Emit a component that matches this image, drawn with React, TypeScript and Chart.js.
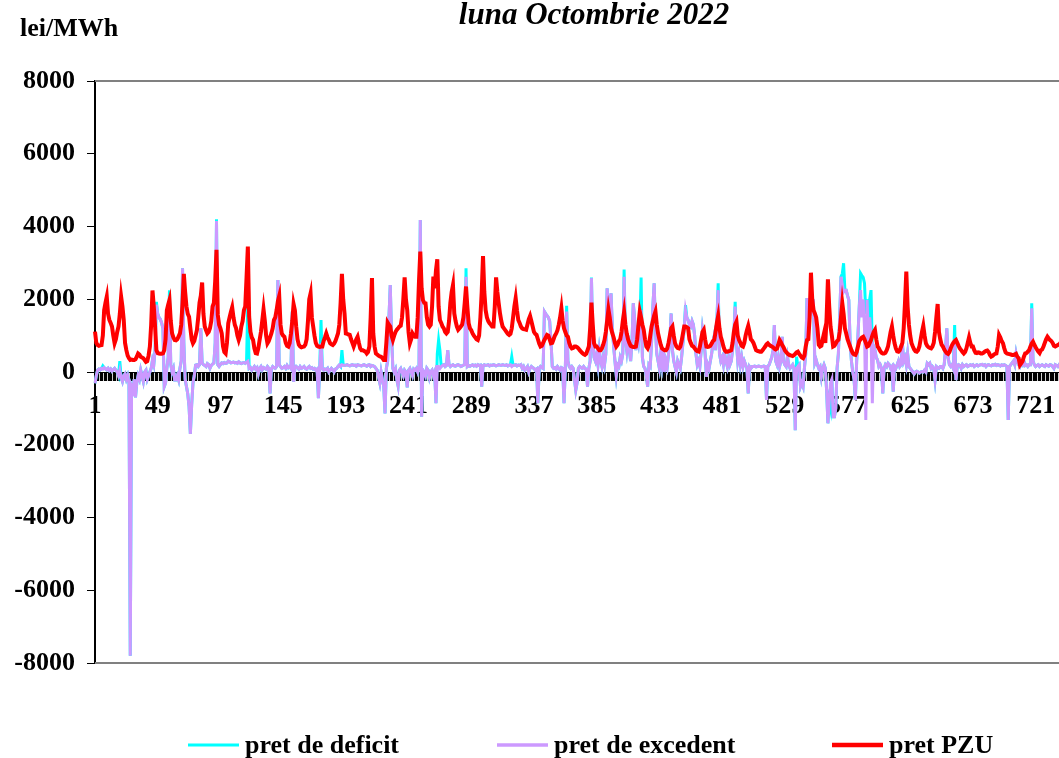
import React, { useEffect, useRef } from "react";
import { Chart, registerables } from "chart.js";

Chart.register(...registerables);

const FONT = "'Liberation Serif', 'Times New Roman', serif";

const chartTitle = "luna Octombrie 2022";
const unitLabel = "lei/MWh";
const seriesNames = ["pret de deficit", "pret de excedent", "pret PZU"];
const seriesColors = ["#00FFFF", "#CC99FF", "#FF0000"];

// hourly PZU price, one row per day (30 Oct has 25 hours)
const pretPZU = [
  1110, 800, 740, 720, 730, 740, 1000, 1700, 1900, 2070, 1600, 1430, 1350, 1250, 1000, 790, 900, 1100, 1250, 1600, 2070, 1800, 1430, 800,
  600, 450, 380, 330, 340, 330, 330, 350, 420, 510, 480, 420, 400, 380, 330, 280, 300, 450, 700, 1300, 2240, 1800, 1250, 600,
  520, 510, 500, 500, 510, 600, 900, 1700, 1850, 1980, 1400, 1060, 950, 880, 870, 900, 980, 1060, 1300, 1900, 2700, 2200, 1800, 1600,
  1520, 1200, 900, 790, 850, 1000, 1150, 1500, 1900, 2100, 2460, 1600, 1250, 1150, 1060, 1100, 1200, 1400, 1800, 1900, 2500, 3360, 1570, 1300,
  1200, 1060, 700, 550, 510, 800, 1340, 1500, 1650, 1780, 1500, 1300, 1200, 1000, 880, 1000, 1250, 1400, 1700, 1800, 2600, 3450, 1520, 1100,
  950, 880, 650, 520, 510, 650, 880, 1100, 1400, 1720, 1400, 1000, 790, 850, 950, 1060, 1200, 1430, 1500, 1700, 1950, 2090, 1300, 1060,
  1000, 970, 800, 720, 700, 800, 1060, 1400, 1870, 1700, 1250, 900, 750, 700, 680, 690, 700, 750, 900, 1400, 2000, 2160, 1500, 1250,
  1000, 800, 720, 700, 690, 700, 700, 850, 950, 1060, 950, 880, 790, 760, 740, 780, 850, 950, 1060, 1300, 1900, 2700, 2000, 1610,
  1060, 1050, 1030, 1020, 900, 800, 700, 800, 900, 970, 800, 650, 600, 600, 580, 560, 510, 550, 700, 1500, 2580, 1060, 700, 510,
  480, 450, 430, 420, 380, 330, 330, 800, 1360, 1300, 1250, 1000, 880, 1000, 1100, 1160, 1200, 1250, 1270, 1500, 2000, 2600, 2000, 1700,
  1100, 790, 900, 1060, 1000, 970, 970, 1500, 2500, 3310, 2300, 1980, 1900, 1890, 1500, 1300, 1250, 1300, 1800, 2620, 2300, 2800, 3100, 1800,
  1430, 1350, 1250, 1200, 1100, 1060, 1100, 1400, 1900, 2200, 2390, 1610, 1400, 1250, 1160, 1200, 1250, 1300, 1500, 1900, 2350, 1800, 1340, 1200,
  1150, 1060, 1000, 950, 900, 880, 1000, 1500, 2200, 3190, 2200, 1700, 1500, 1400, 1340, 1300, 1250, 1250, 1800, 2600, 2200, 1890, 1610, 1400,
  1250, 1200, 1150, 1100, 1050, 1020, 1050, 1200, 1500, 1800, 2030, 1700, 1430, 1350, 1250, 1200, 1180, 1170, 1160, 1300, 1450, 1540, 1400, 1250,
  1100, 1050, 1020, 900, 780, 700, 720, 800, 880, 950, 1020, 1000, 900, 790, 800, 900, 1000, 1060, 1150, 1300, 1500, 1750, 1400, 1200,
  1100, 1000, 970, 800, 700, 650, 660, 700, 700, 680, 650, 600, 560, 520, 490, 470, 500, 600, 700, 1200, 1910, 1300, 790, 700,
  700, 650, 600, 600, 650, 750, 880, 1100, 1400, 1720, 1500, 1200, 1060, 950, 800, 700, 750, 850, 900, 1100, 1400, 1650, 1300, 1060,
  900, 800, 720, 700, 690, 690, 700, 900, 1300, 1660, 1500, 1300, 1160, 900, 700, 650, 750, 1000, 1250, 1400, 1550, 1660, 1300, 1060,
  900, 750, 650, 620, 600, 600, 650, 800, 1000, 1200, 1250, 1000, 790, 700, 660, 650, 700, 850, 1050, 1250, 1250, 1230, 1200, 900,
  800, 720, 700, 650, 600, 570, 560, 700, 900, 1100, 1160, 900, 700, 690, 700, 720, 780, 850, 880, 1100, 1350, 1540, 1200, 970,
  850, 700, 600, 560, 560, 570, 580, 600, 800, 1100, 1300, 1380, 1000, 880, 800, 720, 700, 800, 1000, 1150, 1270, 1100, 900, 860,
  800, 700, 600, 580, 570, 560, 560, 600, 650, 700, 760, 790, 750, 720, 700, 680, 640, 620, 640, 750, 880, 820, 740, 680,
  600, 550, 510, 480, 460, 450, 440, 460, 500, 540, 560, 500, 450, 400, 380, 450, 700, 880, 900, 1500, 2730, 2000, 1700, 1610,
  1500, 1200, 750, 700, 720, 900, 1060, 800, 1500, 2550, 1800, 1250, 1000, 700, 720, 780, 850, 880, 1100, 1500, 1890, 1600, 1200, 1060,
  900, 800, 700, 600, 520, 480, 470, 550, 700, 850, 900, 950, 970, 900, 800, 700, 720, 800, 880, 1000, 1100, 1160, 900, 700,
  650, 580, 530, 510, 510, 530, 600, 700, 900, 1100, 1250, 1000, 790, 650, 570, 560, 600, 700, 800, 1200, 1900, 2760, 1800, 1300,
  1000, 790, 700, 620, 570, 560, 600, 700, 900, 1100, 1270, 1000, 790, 720, 680, 660, 650, 700, 800, 1100, 1500, 1870, 1100, 900,
  750, 700, 620, 560, 520, 500, 550, 650, 740, 800, 850, 880, 800, 720, 650, 600, 550, 510, 550, 650, 800, 950, 800, 700,
  700, 600, 530, 520, 540, 530, 510, 510, 530, 560, 580, 590, 550, 470, 420, 440, 480, 500, 510, 700, 1020, 950, 850, 790,
  650, 540, 510, 500, 490, 480, 470, 470, 480, 500, 420, 380, 190, 240, 300, 420, 510, 520, 560, 600, 700, 780, 830, 750, 680,
  620, 560, 520, 600, 620, 700, 800, 900, 970, 920, 880, 850, 800, 720, 700, 720, 740, 760, 800, 900, 950, 900, 800, 700,
];

// hourly surplus (excedent) imbalance price
const pretExcedent = [
  -310, -100, 50, 80, 60, 100, 80, 120, 90, 60, 100, 40, 80, 20, 60, 100, 50, 0, -100, 50, -150, -260, -100, -50,
  -200, -100, -300, -7800, -400, -500, -200, -700, -300, -100, -200, 50, -100, -260, 0, 50, -200, -100, 0, 100, 330, 200, 600, 1850,
  1600, 1500, 1450, 1350, 1200, -400, -300, 100, 400, 2070, 200, 0, 100, -220, -220, -100, -220, 100, 300, 2850, 800, -200, -400, -600,
  -950, -1700, -900, -300, -100, 190, 200, 150, 200, 1200, 250, 200, 180, 150, 230, 200, 100, 180, 220, 250, 800, 4150, 200, 150,
  200, 250, 230, 260, 240, 250, 300, 280, 250, 260, 270, 250, 260, 240, 280, 250, 230, 250, 260, 240, 280, 300, 100, 120,
  50, 100, 150, 80, 120, -50, 100, 150, 60, 120, 100, 80, 150, 100, -590, 80, 150, 120, 100, 150, 2530, 200, 150, 100,
  120, 150, 100, 180, 120, 150, 100, 1660, -270, 100, 150, 120, 80, 150, 100, 120, 150, 100, 80, 120, 150, 100, 120, 80,
  100, 50, 80, -720, 100, 790, 100, 50, 80, 60, 100, 0, 50, 100, 60, 0, 80, 100, 150, 190, 150, 200, 190, 180,
  190, 200, 180, 170, 190, 200, 180, 190, 160, 200, 190, 180, 170, 190, 200, 180, 160, 190, 200, 150, 180, 170, 150, 100,
  50, -130, -300, 0, -200, -400, -1140, 100, 300, 1500, 2390, 1000, 100, 0, 80, -200, -380, 50, 100, 0, -100, 50, 0, -420,
  50, 100, 0, -100, 80, 50, 100, 0, 150, 4180, -1230, 50, 0, -100, 100, 50, -150, 0, 50, -100, 0, -860, 150, 150,
  100, 150, 180, 200, 150, 180, 600, 200, 150, 180, 200, 170, 160, 190, 200, 180, 150, 170, 190, 200, 2620, 150, 180, 160,
  180, 200, 170, 190, 160, 200, 180, 190, -400, 170, 200, 180, 190, 200, 170, 190, 180, 200, 190, 170, 180, 200, 190, 180,
  200, 190, 180, 200, 170, 190, 200, 150, 180, 190, 200, 170, 190, 180, 200, 100, 150, 50, 100, 150, 0, 100, 150, 120,
  100, 50, 80, -860, 100, 150, 120, 100, 1660, 1600, 1550, 1500, 1400, 880, 150, 100, 120, 80, 150, 100, 50, 120, 100, -860,
  100, 1660, 300, 150, 100, 150, 100, -200, -500, -300, 100, 150, 120, 100, 150, 100, 80, -400, 100, 300, 2580, 800, 400, 300,
  500, 200, 600, 300, 150, 400, 200, 500, 2300, 1800, 1500, 2160, 1200, 700, 300, -100, 200, 150, 400, 300, 500, 2620, 900, 600,
  1000, 600, 300, 800, 1890, 1500, 600, 1000, 800, 1200, 1700, 400, 150, 100, -100, -400, 200, 150, 800, 1800, 2440, 1200, 500, 300,
  100, 500, 200, 600, 0, 300, 150, 500, 900, 1610, 600, 300, 150, 0, 300, 200, 100, 400, 800, 1200, 1700, 1500, 1430, 1300,
  1250, 1400, 1300, 1000, 500, 200, 300, 150, 600, 1160, 900, 500, -130, 200, 100, 300, 500, 800, 1000, 600, 1400, 2250, 500, 300,
  400, 200, 500, 300, 150, 400, 200, 300, 600, 1000, 1800, 800, 300, 500, 200, 400, 150, 300, 200, 100, -590, 150, 100, 150,
  150, 160, 140, 150, 160, 150, 140, 150, 160, 150, -770, 150, 200, 300, 400, 600, 1290, 300, 200, 400, 150, 300, 970, 300,
  200, 150, 420, 200, 100, 150, 200, 100, -1600, 100, 150, 200, -400, -300, -400, 100, 500, 2030, 1500, 1800, 1900, 1700, 1800, 240,
  330, 200, 100, 150, -130, 100, 200, 100, -500, -1410, -800, -300, -200, -1230, -1230, -1000, 100, 500, 1500, 2620, 2400, 2200, 2250, 2250,
  2100, 1980, 800, 300, 0, -200, -770, 300, 1000, 1800, 2250, 1500, 2000, 1200, -1320, 1980, 800, 1500, 1000, -860, 700, 600, 400, 330,
  150, 200, 100, -590, 100, 200, 150, 240, 200, 100, 150, -540, 150, 100, 200, 300, 150, 200, 790, 300, 400, 200, 510, 150,
  100, 50, 0, -50, 0, 20, 0, -30, 0, 10, 0, 50, 0, 240, 200, 240, 100, 150, 100, -220, 150, 120, 100, 150,
  150, 100, 200, 600, 1200, 400, 200, 150, 200, 100, 900, -220, 150, 200, 180, 100, 200, 150, 180, 200, 150, 170, 200, 180,
  200, 150, 180, 200, 170, 190, 200, 210, 180, 200, 150, 190, 200, 180, 170, 200, 190, 210, 180, 200, 190, 170, 200, 180,
  200, 180, 150, -1320, 150, 200, 250, 300, 200, 500, 300, 200, 150, 250, 200, 300, 180, 200, 150, 200, 200, 1750, 300, 200, 150,
  180, 200, 150, 180, 200, 170, 150, 200, 180, 160, 200, 190, 150, 100, 200, 180, 150, 200, 170, 190, 200, 180, 150, 170,
];

// hourly deficit imbalance price
const pretDeficit = [
  -310, -100, 50, 80, 60, 100, 170, 120, 90, 60, 100, 40, 80, 20, 60, 100, 50, 0, -100, 300, -150, -260, -100, -50,
  -200, -100, -300, -7800, -400, -500, -200, -700, -300, -100, -200, 50, -100, -260, 0, 50, -200, -100, 0, 100, 330, 200, 600, 1930,
  1600, 1500, 1450, 1350, 1200, -400, -300, 100, 400, 2250, 200, 0, 100, -220, -220, -100, -220, 100, 300, 2850, 800, -200, -400, -600,
  -950, -1700, -900, -300, -100, 190, 200, 150, 200, 1200, 250, 200, 180, 150, 230, 200, 100, 180, 220, 250, 800, 4200, 200, 150,
  200, 250, 230, 260, 240, 250, 300, 280, 250, 260, 270, 250, 260, 240, 280, 250, 230, 250, 260, 240, 280, 1980, 100, 120,
  50, 100, 150, 80, 120, -50, 100, 150, 60, 120, 100, 80, 150, 100, -590, 80, 150, 120, 100, 150, 2530, 200, 150, 100,
  120, 150, 100, 180, 120, 150, 100, 1660, -270, 100, 150, 120, 80, 150, 100, 120, 150, 100, 80, 120, 150, 100, 120, 80,
  100, 50, 80, -720, 100, 1430, 100, 50, 80, 60, 100, 0, 50, 100, 60, 0, 80, 100, 150, 190, 150, 600, 190, 180,
  190, 200, 180, 170, 190, 200, 180, 190, 160, 200, 190, 180, 170, 190, 200, 180, 160, 190, 200, 150, 180, 170, 150, 100,
  50, -130, -300, 0, -200, -400, -1140, 100, 300, 1500, 2390, 1000, 100, 0, 80, -200, -380, 50, 100, 0, -100, 50, 0, -420,
  50, 100, 0, -100, 80, 50, 100, 0, 150, 4180, -1230, 50, 0, -100, 100, 50, -150, 0, 50, -100, 0, -860, 500, 880,
  600, 150, 180, 200, 150, 180, 600, 200, 150, 180, 200, 170, 160, 190, 200, 180, 150, 170, 190, 200, 2850, 150, 180, 160,
  180, 200, 170, 190, 160, 200, 180, 190, -400, 170, 200, 180, 190, 200, 170, 190, 180, 200, 190, 170, 180, 200, 190, 180,
  200, 190, 180, 200, 170, 190, 200, 420, 180, 190, 200, 170, 190, 180, 200, 100, 150, 50, 100, 150, 0, 100, 150, 120,
  100, 50, 80, -860, 100, 150, 120, 100, 1660, 1600, 1550, 1500, 1400, 880, 150, 100, 120, 80, 150, 100, 50, 120, 100, -860,
  100, 1820, 300, 150, 100, 150, 100, -200, -500, -300, 100, 150, 120, 100, 150, 100, 80, -400, 100, 300, 2600, 800, 400, 300,
  500, 200, 600, 300, 150, 400, 200, 500, 2300, 1800, 1500, 2160, 1200, 700, 300, -100, 200, 150, 400, 300, 500, 2820, 900, 600,
  1000, 600, 300, 800, 1890, 1500, 600, 1000, 800, 1200, 2600, 400, 150, 100, -100, -400, 200, 150, 800, 1800, 2440, 1200, 500, 300,
  100, 500, 200, 600, 0, 300, 150, 500, 900, 1610, 600, 300, 150, 0, 300, 200, 100, 400, 800, 1200, 1840, 1500, 1430, 1300,
  1250, 1400, 1300, 1000, 500, 200, 300, 150, 600, 1160, 900, 500, -130, 200, 100, 300, 500, 800, 1000, 600, 1400, 2440, 500, 300,
  400, 200, 500, 300, 150, 400, 200, 300, 600, 1000, 1930, 800, 300, 500, 200, 400, 150, 300, 200, 100, -590, 150, 100, 150,
  150, 160, 140, 150, 160, 150, 140, 150, 160, 150, -770, 150, 200, 300, 400, 600, 1290, 300, 200, 400, 150, 300, 970, 300,
  200, 150, 420, 200, 100, 150, 200, 100, -1600, 420, 150, 200, -400, -300, -400, 100, 500, 2030, 1500, 1800, 1900, 1700, 1800, 240,
  330, 200, 100, 150, -130, 100, 200, 100, -500, -1410, -800, -1000, -200, -1230, -1230, -1000, 100, 500, 1500, 2620, 2700, 2990, 2250, 2250,
  2100, 1980, 800, 300, 0, -200, -770, 300, 1000, 1800, 2710, 2650, 2600, 2440, 1600, 2000, 1300, 2000, 2250, 600, 700, 600, 400, 330,
  150, 200, 100, -590, 100, 200, 150, 240, 200, 100, 150, -540, 150, 100, 200, 300, 150, 200, 790, 300, 400, 200, 510, 150,
  100, 50, 0, -50, 0, 20, 0, -30, 0, 10, 0, 50, 0, 240, 200, 240, 100, 150, 100, -220, 150, 120, 100, 150,
  150, 100, 200, 600, 1200, 400, 200, 150, 200, 100, 1290, -220, 150, 200, 180, 100, 200, 150, 180, 200, 150, 170, 200, 180,
  200, 150, 180, 200, 170, 190, 200, 210, 180, 200, 150, 190, 200, 180, 170, 200, 190, 210, 180, 200, 190, 170, 200, 180,
  200, 180, 150, -1320, 150, 200, 250, 300, 200, 500, 300, 200, 150, 250, 200, 300, 180, 200, 150, 200, 200, 1890, 300, 200, 150,
  180, 200, 150, 180, 200, 170, 150, 200, 180, 160, 200, 190, 150, 100, 200, 180, 150, 200, 170, 190, 200, 180, 150, 170,
];

// category labels: hour index of the month
const hours = pretPZU.map((_, i) => String(i + 1));
const labelEvery = 48;
const yMin = -8000;
const yMax = 8000;
const yStep = 2000;

const framePlugin = {
  id: "plotFrame",
  beforeDatasetsDraw(chart: any) {
    const { ctx, chartArea } = chart;
    ctx.save();
    ctx.strokeStyle = "#808080";
    ctx.lineWidth = 2;
    ctx.beginPath();
    ctx.moveTo(chartArea.left, chartArea.top);
    ctx.lineTo(chartArea.right, chartArea.top);
    ctx.lineTo(chartArea.right, chartArea.bottom);
    ctx.lineTo(chartArea.left, chartArea.bottom);
    ctx.stroke();
    ctx.restore();
  },
};

const textPlugin = {
  id: "chartTexts",
  afterDraw(chart: any) {
    const ctx = chart.ctx;
    ctx.save();
    ctx.fillStyle = "#000";
    ctx.textBaseline = "alphabetic";
    ctx.textAlign = "center";
    ctx.font = `italic bold 31px ${FONT}`;
    ctx.fillText(chartTitle, 594, 24);
    ctx.textAlign = "left";
    ctx.font = `bold 26px ${FONT}`;
    ctx.fillText(unitLabel, 20, 36);
    const xs = [188, 497, 832];
    const widths = [3, 3.5, 4.5];
    ctx.textBaseline = "middle";
    seriesNames.forEach((name, k) => {
      ctx.strokeStyle = seriesColors[k];
      ctx.lineWidth = widths[k];
      ctx.beginPath();
      ctx.moveTo(xs[k], 745);
      ctx.lineTo(xs[k] + 51, 745);
      ctx.stroke();
      ctx.fillText(name, xs[k] + 57, 746);
    });
    ctx.restore();
  },
};

export default function App() {
  const ref = useRef<HTMLCanvasElement | null>(null);

  useEffect(() => {
    if (!ref.current) return;
    const chart = new Chart(ref.current, {
      type: "line",
      data: {
        labels: hours,
        datasets: [
          {
            label: seriesNames[0],
            data: pretDeficit,
            borderColor: seriesColors[0],
            backgroundColor: seriesColors[0],
            borderWidth: 3,
            pointRadius: 0,
            tension: 0,
            order: 3,
          },
          {
            label: seriesNames[1],
            data: pretExcedent,
            borderColor: seriesColors[1],
            backgroundColor: seriesColors[1],
            borderWidth: 3,
            pointRadius: 0,
            tension: 0,
            order: 2,
          },
          {
            label: seriesNames[2],
            data: pretPZU,
            borderColor: seriesColors[2],
            backgroundColor: seriesColors[2],
            borderWidth: 4,
            pointRadius: 0,
            tension: 0,
            order: 1,
          },
        ],
      },
      options: {
        responsive: false,
        animation: false,
        devicePixelRatio: 1,
        layout: { padding: { left: 0, top: 81, right: 121, bottom: 95 } },
        plugins: {
          legend: { display: false },
          title: { display: false },
          tooltip: { enabled: false },
        },
        scales: {
          x: {
            type: "category",
            position: { y: 0 } as any,
            offset: false,
            grid: {
              drawOnChartArea: false,
              drawTicks: true,
              tickLength: 8,
              tickColor: "#000",
              tickWidth: 1.2,
              offset: false,
            },
            border: { color: "#000", width: 1 },
            ticks: {
              autoSkip: false,
              maxRotation: 0,
              minRotation: 0,
              padding: 11,
              color: "#000",
              font: { family: FONT, size: 26, weight: "bold" },
              callback: (_v: any, idx: number) => (idx % labelEvery === 0 ? hours[idx] : ""),
            },
          },
          y: {
            min: yMin,
            max: yMax,
            afterFit: (s: any) => {
              s.width = 95;
            },
            grid: {
              drawOnChartArea: false,
              drawTicks: true,
              tickLength: 8,
              tickColor: "#000",
              tickWidth: 1,
            },
            border: { color: "#000", width: 2 },
            ticks: {
              stepSize: yStep,
              padding: 12,
              color: "#000",
              font: { family: FONT, size: 26, weight: "bold" },
              callback: (v: any) => String(v),
            },
          },
        },
      },
      plugins: [framePlugin, textPlugin],
    });
    return () => chart.destroy();
  }, []);

  return (
    <div
      style={{
        position: "fixed",
        left: 0,
        top: 0,
        width: 1059,
        height: 758,
        overflow: "hidden",
        background: "#fff",
      }}
    >
      <canvas ref={ref} width={1188} height={758} style={{ display: "block" }} />
    </div>
  );
}
